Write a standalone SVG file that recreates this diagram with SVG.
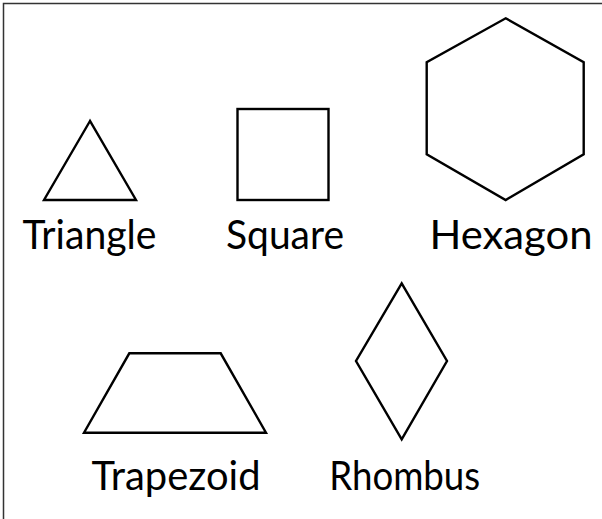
<svg xmlns="http://www.w3.org/2000/svg" width="602" height="519" viewBox="0 0 602 519">
<style>
.shape{fill:none;stroke:#000;stroke-width:2.4;stroke-linejoin:miter}
.lbl{font-family:Lato,"Liberation Sans",Arial,sans-serif;font-weight:400;font-size:40px;fill:#000;text-anchor:middle}
</style>
<rect x="0" y="0" width="602" height="519" fill="#fff"/>
<path d="M3.5,700 V3.5 H700" fill="none" stroke="#333" stroke-width="1.5"/>
<g id="triangle">
<polygon class="shape" points="90,121 44,200 136,200"/>
<text class="lbl" x="89.5" y="249" textLength="134" lengthAdjust="spacingAndGlyphs">Triangle</text>
</g>
<g id="square">
<rect class="shape" x="237.5" y="109" width="91" height="91"/>
<text class="lbl" x="285" y="249" textLength="118" lengthAdjust="spacingAndGlyphs">Square</text>
</g>
<g id="hexagon">
<polygon class="shape" points="505.7,18.3 583.7,62.3 583.7,154.3 505.7,200 426.7,154.3 426.7,62.3"/>
<text class="lbl" x="511" y="249" textLength="163" lengthAdjust="spacingAndGlyphs">Hexagon</text>
</g>
<g id="trapezoid">
<polygon class="shape" points="129.3,353.3 220.7,353.3 266,432.7 84,432.7"/>
<text class="lbl" x="176" y="490" textLength="169" lengthAdjust="spacingAndGlyphs">Trapezoid</text>
</g>
<g id="rhombus">
<polygon class="shape" points="401.7,283.3 447,361 401.7,439.3 356,361"/>
<text class="lbl" x="404.7" y="490" textLength="151" lengthAdjust="spacingAndGlyphs">Rhombus</text>
</g>
<g id="connectors"/>
</svg>
